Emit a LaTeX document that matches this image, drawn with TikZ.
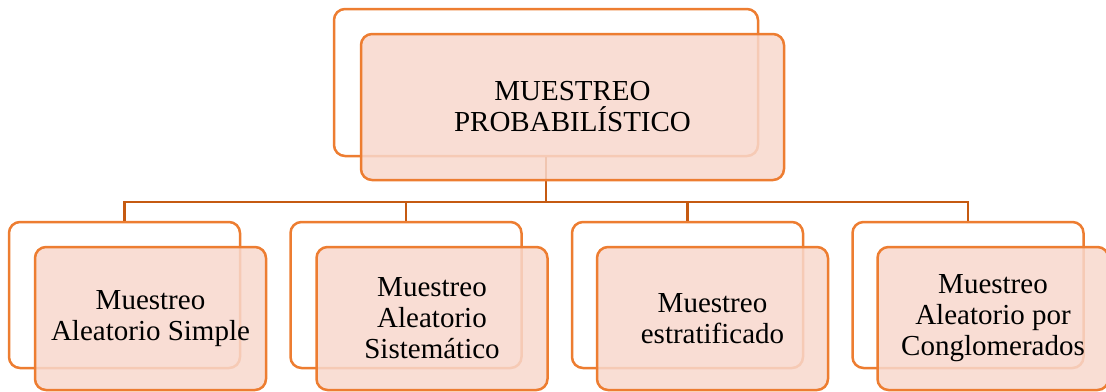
\documentclass[tikz,border=0pt]{standalone}
\usepackage{fontspec}
\setmainfont{Liberation Serif}
\definecolor{boxline}{HTML}{ED7D31}
\definecolor{boxfill}{HTML}{F8D8CD}
\definecolor{connline}{HTML}{C55A11}
\begin{document}
\begin{tikzpicture}[x=1pt,y=-1pt,
  backbox/.style={draw=boxline,line width=2.5pt,fill=white,rounded corners=11pt,minimum width=231pt,minimum height=146pt,inner sep=0pt},
  frontbox/.style={draw=boxline,line width=2.5pt,fill=boxfill,fill opacity=0.85,text opacity=1,rounded corners=11pt,minimum width=231pt,minimum height=143pt,inner sep=0pt,align=center,font=\fontsize{29}{31}\selectfont},
  conn/.style={draw=connline,line width=2.2pt}]
\useasboundingbox (0,0) rectangle (1106,391);
% top
\node[backbox,minimum width=424pt,minimum height=147pt] (tb) at (546,82.5) {};
% children back boxes
\node[backbox] (c1b) at (124.5,295) {};
\node[backbox] (c2b) at (406,295) {};
\node[backbox] (c3b) at (687.5,295) {};
\node[backbox] (c4b) at (968,295) {};
% connectors
\coordinate (bar) at (0,202);
\draw[conn] (tb.south) -- (tb.south |- bar) -| (c1b.north);
\draw[conn] (tb.south |- bar) -| (c2b.north);
\draw[conn] (tb.south |- bar) -| (c3b.north);
\draw[conn] (tb.south |- bar) -| (c4b.north);
% front boxes
\node[frontbox,minimum width=423pt,minimum height=146pt] (tf) at (572.5,107) {MUESTREO\\PROBABILÍSTICO};
\node[frontbox] (c1f) at (150.5,318.5) {Muestreo\\Aleatorio Simple};
\node[frontbox] (c2f) at (432,318.5) {Muestreo\\Aleatorio\\Sistemático};
\node[frontbox] (c3f) at (712.5,318.5) {Muestreo\\estratificado};
\node[frontbox] (c4f) at (993,318.5) {Muestreo\\Aleatorio por\\Conglomerados};
\end{tikzpicture}
\end{document}
